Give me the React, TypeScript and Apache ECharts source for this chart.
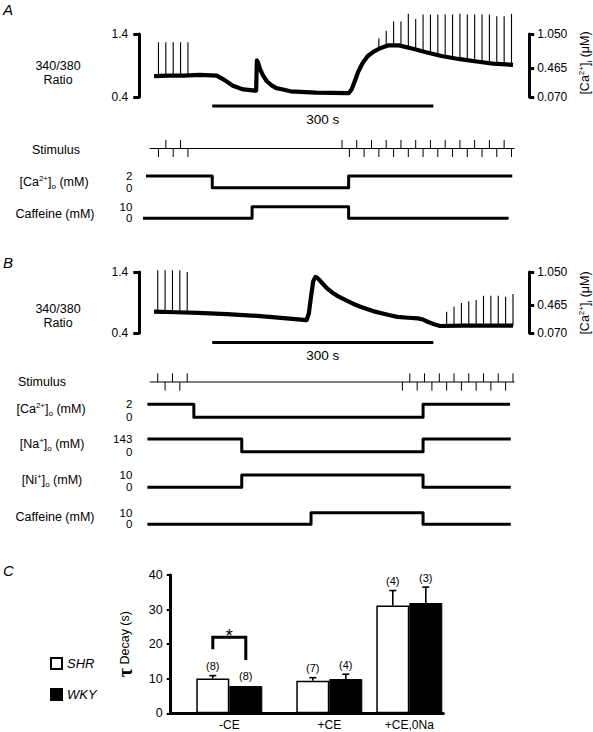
import React, { useEffect, useRef } from 'react';
import * as echarts from 'echarts';

const FONT = '"Liberation Sans", Arial, Helvetica, sans-serif';

// ---------------- Panel A (time in seconds) ----------------
const traceA: number[][] = [
  [0, 0.73], [20, 0.74], [40, 0.74], [62, 0.75], [85, 0.74], [94, 0.68], [107, 0.58], [121, 0.52],
  [137, 0.5], [138.5, 0.5], [139.5, 0.98], [141, 0.95], [144, 0.84], [148, 0.74], [153, 0.65],
  [160, 0.58], [166, 0.54], [175, 0.52], [185, 0.49], [220, 0.47], [262, 0.46], [264, 0.46],
  [268, 0.52], [272, 0.64], [277, 0.8], [283, 0.94], [290, 1.05], [298, 1.12], [306, 1.17],
  [318, 1.22], [332, 1.22], [350, 1.17], [369, 1.11], [390, 1.05], [415, 1.0], [440, 0.96],
  [460, 0.93], [487, 0.91],
];
// [time, base, peak]
const spikesA: number[][] = [
  [6, 0.73, 1.27], [16, 0.74, 1.27], [26, 0.74, 1.27], [36, 0.74, 1.27], [46, 0.74, 1.27],
  [305, 1.17, 1.33], [315, 1.21, 1.45], [325, 1.22, 1.6], [335, 1.22, 1.6], [345, 1.19, 1.72],
  [355, 1.16, 1.64], [365, 1.12, 1.71], [375, 1.09, 1.71], [385, 1.06, 1.71], [395, 1.04, 1.71],
  [405, 1.02, 1.71], [415, 1.0, 1.72], [425, 0.985, 1.71], [435, 0.97, 1.71], [445, 0.955, 1.71],
  [455, 0.94, 1.71], [465, 0.925, 1.68], [475, 0.915, 1.68], [485, 0.91, 1.72],
];
// [time, direction]
const stimA: number[][] = [
  [6, -1], [16, 1], [26, -1], [36, 1], [46, -1],
  [255, 1], [265, -1], [275, 1], [285, -1], [295, 1], [305, -1], [315, 1], [325, -1], [335, 1],
  [345, -1], [355, 1], [365, -1], [375, 1], [385, -1], [395, 1], [405, -1], [415, 1], [425, -1],
  [435, 1], [445, -1], [455, 1], [465, -1], [475, 1], [485, -1],
];
const stimLineA: number[][] = [[-6, 0], [489, 0]];
const caOutA: number[][] = [[-11, 2], [79, 0], [264, 2], [486, 2]];
const caffeineA: number[][] = [[-15, 0], [133, 10], [264, 0], [481, 0]];

// ---------------- Panel B ----------------
const traceB: number[][] = [
  [0, 0.75], [30, 0.74], [60, 0.73], [99, 0.71], [140, 0.68], [180, 0.64], [207, 0.61], [210, 0.72],
  [213, 1.0], [216, 1.25], [219, 1.32], [222, 1.3], [228, 1.22], [234, 1.14], [242, 1.06], [250, 1.0],
  [260, 0.94], [270, 0.88], [280, 0.83], [290, 0.79], [300, 0.75], [310, 0.72], [320, 0.69],
  [330, 0.665], [345, 0.65], [358, 0.64], [365, 0.62], [372, 0.58], [380, 0.545], [388, 0.515],
  [420, 0.52], [450, 0.52], [487, 0.52],
];
const spikesB: number[][] = [
  [5, 0.75, 1.43], [15, 0.75, 1.43], [25, 0.75, 1.43], [35, 0.745, 1.43], [45, 0.745, 1.4],
  [397, 0.52, 0.75], [407, 0.52, 0.83], [417, 0.52, 0.89], [427, 0.52, 0.92], [437, 0.52, 0.94],
  [447, 0.52, 1.01], [457, 0.52, 1.01], [467, 0.52, 1.01], [477, 0.52, 0.995], [487, 0.52, 1.04],
];
const stimB: number[][] = [
  [5, 1], [15, -1], [25, 1], [35, -1], [45, 1],
  [337, -1], [347, 1], [357, -1], [367, 1], [377, -1], [387, 1], [397, -1], [407, 1], [417, -1],
  [427, 1], [437, -1], [447, 1], [457, -1], [467, 1], [477, -1], [487, 1],
];
const stimLineB: number[][] = [[-6, 0], [489, 0]];
const caOutB: number[][] = [[-9, 2], [54, 0], [365, 2], [483, 2]];
const naOutB: number[][] = [[-9, 143], [119, 0], [365, 143], [484, 143]];
const niOutB: number[][] = [[-9, 0], [119, 10], [365, 0], [484, 0]];
const caffeineB: number[][] = [[-9, 0], [213, 10], [365, 0], [484, 0]];

// protocol level tick labels
const caLevels = [0, 2];
const naLevels = [0, 143];
const niLevels = [0, 10];
const caffeineLevels = [0, 10];

// scale bar: 300 s
const scaleBar: number[][] = [[79, 0], [379, 0]];
const ratioTicks = [0.4, 1.4];
const caiTickPos = [0.4, 0.86, 1.4];
const caiTickLabels = ['0.070', '0.465', '1.050'];

// ---------------- Panel C ----------------
const groups = ['-CE', '+CE', '+CE,0Na'];
const shrMean = [10.1, 9.4, 31.2];
const shrSem = [0.8, 0.9, 4.3];
const shrN = [8, 7, 4];
const wkyMean = [7.9, 9.9, 31.9];
const wkySem = [0, 1.4, 4.6];
const wkyN = [8, 4, 3];
const sigBracket = [18.5, 22, 15.4]; // left end, top, right end
const groupPos = [0.586, 1.586, 2.386]; // layout positions on the x axis

// ---------------- layout ----------------
const X_LEFT = 139.3;
const X_W = 375.9;
const T_MIN = -20;
const T_MAX = 490;
const HALF_BAR = 16.5;

const timeRows = [
  { top: 34, height: 63 }, // 0 trace A
  { top: 104, height: 4 }, // 1 scale bar A
  { top: 140, height: 17 }, // 2 stim A
  { top: 176, height: 11.7 }, // 3 Ca A
  { top: 206.7, height: 11.6 }, // 4 caffeine A
  { top: 272, height: 61 }, // 5 trace B
  { top: 340.5, height: 4 }, // 6 scale bar B
  { top: 373.3, height: 17.4 }, // 7 stim B
  { top: 404.3, height: 13 }, // 8 Ca B
  { top: 439, height: 12.7 }, // 9 Na B
  { top: 475, height: 12.3 }, // 10 Ni B
  { top: 512.7, height: 11.6 }, // 11 caffeine B
];

const black = '#000';

function buildOption(): any {
  const grid: any[] = timeRows.map((r) => ({
    left: X_LEFT, width: X_W, top: r.top, height: r.height, containLabel: false, outerBoundsMode: 'none',
  }));
  grid.push({ left: 170.7, top: 575, width: 272.6, height: 138.3, containLabel: false, outerBoundsMode: 'none' });

  const xAxis: any[] = timeRows.map((_, i) => ({ type: 'value', gridIndex: i, min: T_MIN, max: T_MAX, show: false }));
  xAxis.push({
    type: 'value', gridIndex: 12, min: 0, max: 2.726,
    axisLine: { show: true, onZero: false, lineStyle: { color: black, width: 3 } },
    axisTick: { show: false },
    splitLine: { show: false },
    axisLabel: {
      show: true, customValues: groupPos, margin: 6, color: black, fontSize: 12, lineHeight: 12, fontFamily: FONT,
      hideOverlap: false,
      formatter: (v: number) => {
        const i = groupPos.findIndex((p) => Math.abs(p - v) < 1e-6);
        return i >= 0 ? groups[i] : '';
      },
    },
  });

  const labelStyle = { color: black, fontSize: 12, fontFamily: FONT, hideOverlap: false, showMinLabel: true, showMaxLabel: true };
  const traceLeft = (g: number) => ({
    type: 'value', gridIndex: g, min: 0.4, max: 1.4, position: 'left',
    axisLine: { show: true, onZero: false, lineStyle: { color: black, width: 3 } },
    axisTick: { show: true, customValues: ratioTicks, length: 6, lineStyle: { color: black, width: 3 } },
    axisLabel: { show: true, customValues: ratioTicks, margin: 11, formatter: (v: number) => v.toFixed(1), ...labelStyle },
    splitLine: { show: false },
  });
  const traceRight = (g: number) => ({
    type: 'value', gridIndex: g, min: 0.4, max: 1.4, position: 'right', offset: 14,
    axisLine: { show: true, onZero: false, lineStyle: { color: black, width: 3 } },
    axisTick: { show: true, customValues: caiTickPos, length: 5, lineStyle: { color: black, width: 3 } },
    axisLabel: {
      show: true, customValues: caiTickPos, margin: 8, ...labelStyle,
      formatter: (v: number) => {
        const i = caiTickPos.findIndex((p) => Math.abs(p - v) < 1e-6);
        return i >= 0 ? caiTickLabels[i] : '';
      },
    },
    splitLine: { show: false },
  });
  const hiddenY = (g: number) => ({ type: 'value', gridIndex: g, min: -1, max: 1, show: false });
  const protoY = (g: number, max: number) => ({ type: 'value', gridIndex: g, min: 0, max, show: false });

  const yAxis: any[] = [
    traceLeft(0), // 0
    traceRight(0), // 1
    hiddenY(1), // 2
    hiddenY(2), // 3
    protoY(3, 2), // 4
    protoY(4, 10), // 5
    traceLeft(5), // 6
    traceRight(5), // 7
    hiddenY(6), // 8
    hiddenY(7), // 9
    protoY(8, 2), // 10
    protoY(9, 143), // 11
    protoY(10, 10), // 12
    protoY(11, 10), // 13
    {
      type: 'value', gridIndex: 12, min: 0, max: 40, interval: 10,
      axisLine: { show: true, onZero: false, lineStyle: { color: black, width: 3 } },
      axisTick: { show: true, length: 4, lineStyle: { color: black, width: 2 } },
      axisLabel: { show: true, margin: 8, ...labelStyle, fontSize: 12.5 },
      splitLine: { show: false },
      name: '{tau|τ} Decay (s)',
      nameLocation: 'middle', nameGap: 36, nameRotate: 90,
      nameTextStyle: {
        color: black, fontSize: 12.5, fontFamily: FONT,
        rich: { tau: { fontSize: 20, fontWeight: 'bold', fontFamily: '"Liberation Serif", serif', color: black } },
      },
    }, // 14
  ];

  const lineS = (xi: number, yi: number, data: number[][], width: number, step?: string) => ({
    type: 'line', xAxisIndex: xi, yAxisIndex: yi, data, symbol: 'none', silent: true, clip: false,
    step: step || false, animation: false,
    lineStyle: { color: black, width, join: 'round' },
  });
  const spikeS = (xi: number, yi: number, data: number[][]) => ({
    type: 'custom', xAxisIndex: xi, yAxisIndex: yi, data, silent: true, clip: false,
    renderItem: (_p: any, api: any) => {
      const a = api.coord([api.value(0), api.value(1)]);
      const b = api.coord([api.value(0), api.value(2)]);
      return { type: 'line', shape: { x1: a[0], y1: a[1], x2: b[0], y2: b[1] }, style: { stroke: black, lineWidth: 1.1 } };
    },
  });
  const stimS = (xi: number, yi: number, data: number[][]) => ({
    type: 'custom', xAxisIndex: xi, yAxisIndex: yi, data, silent: true, clip: false,
    renderItem: (_p: any, api: any) => {
      const a = api.coord([api.value(0), 0]);
      const b = api.coord([api.value(0), api.value(1)]);
      return { type: 'line', shape: { x1: a[0], y1: a[1], x2: b[0], y2: b[1] }, style: { stroke: black, lineWidth: 1 } };
    },
  });
  const levelS = (xi: number, yi: number, levels: number[]) => ({
    type: 'custom', xAxisIndex: xi, yAxisIndex: yi, silent: true, clip: false,
    data: levels.map((v) => [T_MIN, v]),
    renderItem: (_p: any, api: any) => {
      const p = api.coord([api.value(0), api.value(1)]);
      return {
        type: 'text', x: p[0] - 7, y: p[1],
        style: { text: String(api.value(1)), align: 'right', verticalAlign: 'middle', font: '11.5px ' + FONT, fill: black },
      };
    },
  });

  const errData = (means: number[], sems: number[], ns: number[], side: number) =>
    groupPos.map((x, i) => [x, means[i], sems[i], ns[i], side]);

  const series: any[] = [
    // Panel A
    spikeS(0, 0, spikesA),
    lineS(0, 0, traceA, 4.2),
    lineS(1, 2, scaleBar, 3),
    lineS(2, 3, stimLineA, 1),
    stimS(2, 3, stimA),
    lineS(3, 4, caOutA, 3, 'end'),
    levelS(3, 4, caLevels),
    lineS(4, 5, caffeineA, 3, 'end'),
    levelS(4, 5, caffeineLevels),
    // Panel B
    spikeS(5, 6, spikesB),
    lineS(5, 6, traceB, 4.2),
    lineS(6, 8, scaleBar, 3),
    lineS(7, 9, stimLineB, 1),
    stimS(7, 9, stimB),
    lineS(8, 10, caOutB, 3, 'end'),
    levelS(8, 10, caLevels),
    lineS(9, 11, naOutB, 3, 'end'),
    levelS(9, 11, naLevels),
    lineS(10, 12, niOutB, 3, 'end'),
    levelS(10, 12, niLevels),
    lineS(11, 13, caffeineB, 3, 'end'),
    levelS(11, 13, caffeineLevels),
    // Panel C
    {
      name: 'SHR', type: 'bar', xAxisIndex: 12, yAxisIndex: 14, barWidth: 33, barGap: '0%',
      data: groupPos.map((x, i) => [x, shrMean[i]]),
      itemStyle: { color: '#fff', borderColor: black, borderWidth: 1.5 },
      silent: true,
    },
    {
      name: 'WKY', type: 'bar', xAxisIndex: 12, yAxisIndex: 14, barWidth: 33, barGap: '0%',
      data: groupPos.map((x, i) => [x, wkyMean[i]]),
      itemStyle: { color: black, borderColor: black, borderWidth: 1 },
      silent: true,
    },
    {
      type: 'custom', xAxisIndex: 12, yAxisIndex: 14, silent: true, clip: false, z: 5,
      data: [...errData(shrMean, shrSem, shrN, -1), ...errData(wkyMean, wkySem, wkyN, 1)],
      renderItem: (_p: any, api: any) => {
        const x = api.value(0), m = api.value(1), e = api.value(2), n = api.value(3), side = api.value(4);
        const base = api.coord([x, m]);
        const top = api.coord([x, m + e]);
        const cx = base[0] + side * HALF_BAR;
        const children: any[] = [];
        if (e > 0) {
          children.push({ type: 'line', shape: { x1: cx, y1: base[1], x2: cx, y2: top[1] }, style: { stroke: black, lineWidth: 1.6 } });
          children.push({ type: 'line', shape: { x1: cx - 3.5, y1: top[1], x2: cx + 3.5, y2: top[1] }, style: { stroke: black, lineWidth: 1.6 } });
        }
        children.push({
          type: 'text', x: cx, y: top[1] - 4,
          style: { text: '(' + n + ')', align: 'center', verticalAlign: 'bottom', font: '11px ' + FONT, fill: black },
        });
        return { type: 'group', children };
      },
    },
    {
      type: 'custom', xAxisIndex: 12, yAxisIndex: 14, silent: true, clip: false, z: 5,
      data: [[groupPos[0], sigBracket[0], sigBracket[1], sigBracket[2]]],
      renderItem: (_p: any, api: any) => {
        const x = api.value(0);
        const l = api.coord([x, api.value(1)]);
        const t = api.coord([x, api.value(2)]);
        const r = api.coord([x, api.value(3)]);
        const xl = l[0] - HALF_BAR, xr = l[0] + HALF_BAR;
        return {
          type: 'group',
          children: [
            { type: 'polyline', shape: { points: [[xl, l[1]], [xl, t[1]], [xr, t[1]], [xr, r[1]]] }, style: { stroke: black, lineWidth: 3, fill: 'none' } },
            { type: 'text', x: l[0], y: t[1] - 1, style: { text: '*', align: 'center', verticalAlign: 'middle', font: '18px ' + FONT, fill: black } },
          ],
        };
      },
    },
  ];

  const sub = { fontSize: 8, lineHeight: 8, verticalAlign: 'bottom', fontFamily: FONT, fill: black, color: black };
  const sup = { fontSize: 8, lineHeight: 8, verticalAlign: 'top', fontFamily: FONT, fill: black, color: black };
  const rich = { sub, sup };
  const txt = (x: number, y: number, text: string, size = 12.5, lh = 16) => ({
    type: 'text', x, y, silent: true,
    style: {
      text, font: `${size}px ${FONT}`, fill: black, align: 'center', verticalAlign: 'middle',
      textAlign: 'center', textVerticalAlign: 'middle', lineHeight: lh, rich,
    },
  });
  const panelLetter = (x: number, y: number, t: string) => ({
    type: 'text', x, y, silent: true,
    style: { text: t, font: `italic 15px ${FONT}`, fill: black, align: 'left', verticalAlign: 'middle', textAlign: 'left', textVerticalAlign: 'middle' },
  });
  const rotated = (x: number, y: number) => ({
    type: 'text', x, y, rotation: Math.PI / 2, silent: true,
    style: {
      text: '[Ca{sup|2+}]{sub|i} (μM)', font: `12.5px ${FONT}`, fill: black, align: 'center', verticalAlign: 'middle',
      textAlign: 'center', textVerticalAlign: 'middle', lineHeight: 16, rich,
    },
  });

  const graphic = [
    panelLetter(3, 9, 'A'),
    panelLetter(3, 262, 'B'),
    panelLetter(3, 570, 'C'),
    txt(58, 73, '340/380\nRatio', 12.5, 14),
    txt(322.8, 119, '300 s', 13.5),
    rotated(585, 63),
    txt(56, 150, 'Stimulus'),
    txt(54, 182, '[Ca{sup|2+}]{sub|o} (mM)'),
    txt(55, 214, 'Caffeine (mM)'),
    txt(58, 316, '340/380\nRatio', 12.5, 14),
    txt(322.8, 355, '300 s', 13.5),
    rotated(585, 303),
    txt(42, 382, 'Stimulus'),
    txt(51, 409, '[Ca{sup|2+}]{sub|o} (mM)'),
    txt(52, 444, '[Na{sup|+}]{sub|o} (mM)'),
    txt(52, 480, '[Ni{sup|+}]{sub|o} (mM)'),
    txt(55, 517, 'Caffeine (mM)'),
  ];

  return {
    animation: false,
    backgroundColor: '#ffffff',
    grid,
    xAxis,
    yAxis,
    series,
    graphic,
    legend: {
      data: ['SHR', 'WKY'], orient: 'vertical', left: 50, top: 657, padding: 0,
      itemWidth: 11, itemHeight: 11, itemGap: 18,
      icon: 'rect', selectedMode: false,
      textStyle: { fontStyle: 'italic', fontSize: 13, fontFamily: FONT, color: black, lineHeight: 11 },
    },
  };
}

export default function App() {
  const ref = useRef<HTMLDivElement>(null);
  useEffect(() => {
    if (!ref.current) return;
    const chart = echarts.init(ref.current, null, { renderer: 'svg' });
    chart.setOption(buildOption());
    return () => chart.dispose();
  }, []);
  return <div ref={ref} style={{ position: 'fixed', left: 0, top: 0, width: 593, height: 732, background: '#fff' }} />;
}
